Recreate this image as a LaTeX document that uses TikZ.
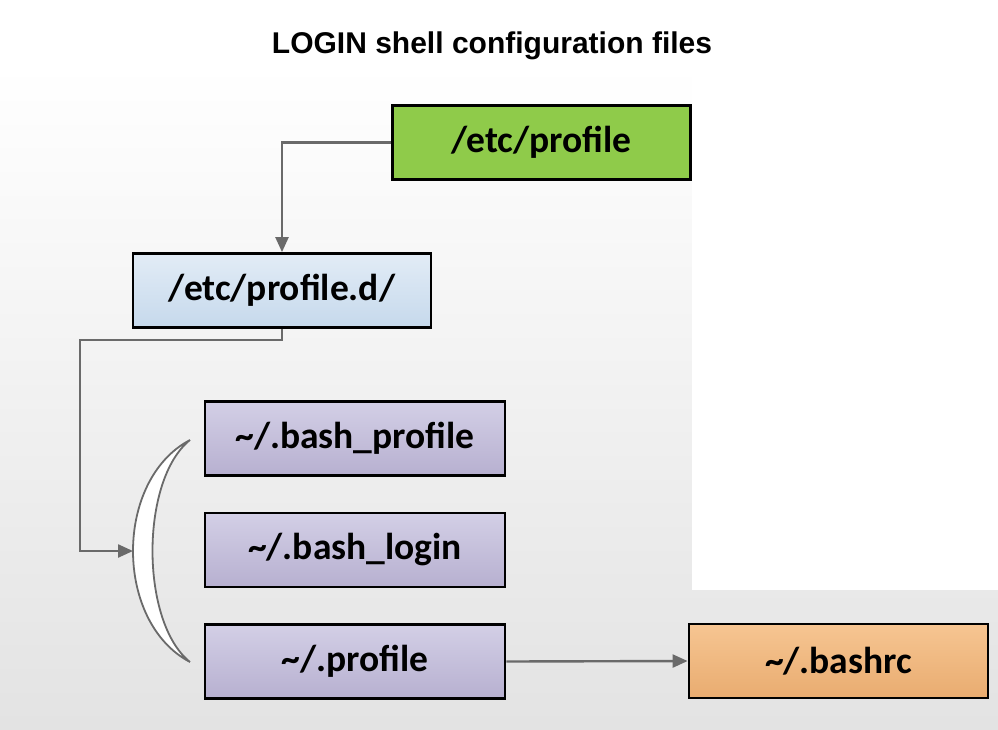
\documentclass[tikz,border=0pt]{standalone}
\usepackage{fontspec}
\setmainfont{Carlito}
\newfontfamily\titlefont{Liberation Sans}
\usetikzlibrary{arrows.meta}
\definecolor{greenbox}{HTML}{8FCB4A}
\definecolor{bluetop}{HTML}{E2ECF6}
\definecolor{bluebot}{HTML}{C6D9EC}
\definecolor{purptop}{HTML}{D3CFE6}
\definecolor{purpbot}{HTML}{B7B0D0}
\definecolor{orgtop}{HTML}{F6C592}
\definecolor{orgbot}{HTML}{E9AC70}
\definecolor{conn}{HTML}{6A6A6A}
\tikzset{
  filebox/.style={draw=black, line width=2.8pt, minimum width=298pt, minimum height=74pt,
    inner sep=0pt, font=\fontsize{37.5}{40}\selectfont\bfseries, text=black},
  link/.style={draw=conn, line width=2.4pt, -{Triangle[length=15pt,width=13pt]}},
  crescent/.style={draw=conn, line width=1.8pt, fill=white}
}
\begin{document}
\begin{tikzpicture}[x=1pt,y=-1pt]
\useasboundingbox (0,0) rectangle (998,729);
\fill[white] (0,0) rectangle (998,729);
\shade[top color=white, bottom color=black!11] (0,65) rectangle (998,729);
\fill[white] (692,65) rectangle (998,590);

\node[font=\titlefont\fontsize{30}{33}\selectfont\bfseries] (title) at (492,46) {LOGIN shell configuration files};

\node[filebox, fill=greenbox] (etcp) at (541.5,142.5) {/etc/profile};
\node[filebox, top color=bluetop, bottom color=bluebot] (etcpd) at (282,290.5) {/etc/profile.d/};
\node[filebox, minimum width=300pt, top color=purptop, bottom color=purpbot] (bp) at (355,438.5) {\textasciitilde/.bash\_profile};
\node[filebox, minimum width=300pt, top color=purptop, bottom color=purpbot] (bl) at (355,550) {\textasciitilde/.bash\_login};
\node[filebox, minimum width=300pt, top color=purptop, bottom color=purpbot] (pr) at (355,661.5) {\textasciitilde/.profile};
\node[filebox, minimum width=299pt, top color=orgtop, bottom color=orgbot] (rc) at (838.5,661) {\textasciitilde/.bashrc};

% crescent bracket
\coordinate (ctop) at (190,440);
\coordinate (cbot) at (190,662);
\coordinate (arc) at (133,551);
\path[crescent] (ctop) .. controls (114,480) and (114,622) .. (cbot)
  .. controls (140,622) and (140,480) .. (ctop) -- cycle;

\coordinate (bend) at (80,340);
\draw[link] (etcp.west) -| (etcpd.north);
\draw[link] (etcpd.south) |- (bend) |- (arc);
\draw[link] (pr.east) -- (rc.west);
\end{tikzpicture}
\end{document}
